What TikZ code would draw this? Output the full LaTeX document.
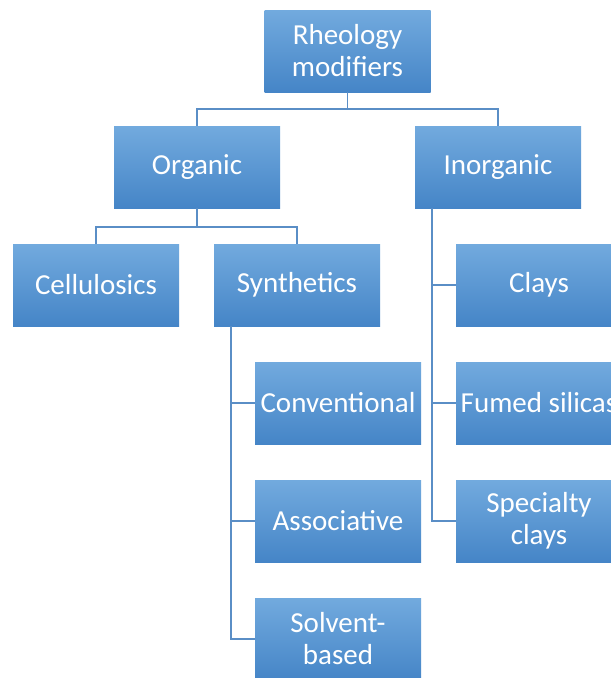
\documentclass[tikz,border=0pt]{standalone}
\usepackage{fontspec}
\setmainfont{Carlito}
\definecolor{boxtop}{HTML}{72AADE}
\definecolor{boxmid}{HTML}{5A9AD6}
\definecolor{boxbot}{HTML}{4585C7}
\definecolor{linkblue}{HTML}{5A8EC6}
\tikzset{
  catbox/.style={minimum width=166pt, minimum height=82pt, inner sep=0pt,
    top color=boxtop, middle color=boxmid, bottom color=boxbot,
    text=white, align=center, font=\fontsize{29}{32}\selectfont},
  link/.style={draw=linkblue, line width=1.8pt}
}

\begin{document}
\begin{tikzpicture}[x=1pt,y=-1pt]
	\fill[white] (0,0) rectangle (611,678);
	\clip (0,0) rectangle (611,678);
	% top levels
	\node[catbox] (root) at (347.5,51) {Rheology\\modifiers};
	\node[catbox] (organic) at (197,167) {Organic};
	\node[catbox] (inorganic) at (498,167) {Inorganic};
	\node[catbox] (cellulosics) at (96,285) {Cellulosics};
	\node[catbox] (synthetics) at (297,285) {Synthetics};
	% synthetics branch
	\node[catbox] (conventional) at (338,403) {Conventional};
	\node[catbox] (associative) at (338,521) {Associative};
	\node[catbox] (solvent) at (338,639) {Solvent-\\based};
	% inorganic branch
	\node[catbox] (clays) at (539,285) {Clays};
	\node[catbox] (fumed) at (539,403) {Fumed silicas};
	\node[catbox] (specialty) at (539,521) {Specialty\\clays};

	\draw[link] (root.south) -- ++(0,17) -| (organic.north);
	\draw[link] (root.south) -- ++(0,17) -| (inorganic.north);
	\draw[link] (organic.south) -- ++(0,19) -| (cellulosics.north);
	\draw[link] (organic.south) -- ++(0,19) -| (synthetics.north);
	\draw[link] ([xshift=17pt]synthetics.south west) |- (conventional.west);
	\draw[link] ([xshift=17pt]synthetics.south west) |- (associative.west);
	\draw[link] ([xshift=17pt]synthetics.south west) |- (solvent.west);
	\draw[link] ([xshift=17pt]inorganic.south west) |- (clays.west);
	\draw[link] ([xshift=17pt]inorganic.south west) |- (fumed.west);
	\draw[link] ([xshift=17pt]inorganic.south west) |- (specialty.west);
\end{tikzpicture}
\end{document}
